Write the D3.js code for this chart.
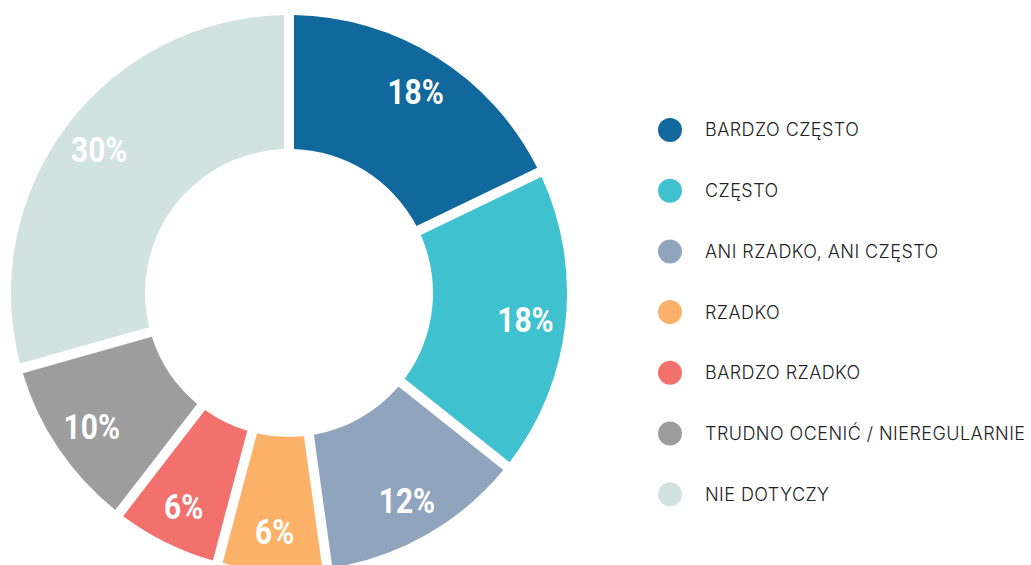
<!DOCTYPE html>
<html>
<head>
<meta charset="utf-8">
<script src="https://cdn.jsdelivr.net/npm/d3@7"></script>
<style>
  body { margin: 0; background: #fff; }
</style>
</head>
<body>
<script>
// categories and values
const categories = ["BARDZO CZĘSTO", "CZĘSTO", "ANI RZADKO, ANI CZĘSTO", "RZADKO",
  "BARDZO RZADKO", "TRUDNO OCENIĆ / NIEREGULARNIE", "NIE DOTYCZY"];
const values = [18, 18, 12, 6, 6, 10, 30];
const colors = ["#10689c", "#40c1cf", "#91a4bd", "#fbb167", "#f2716d", "#9d9d9d", "#d1e3e1"];

const w = 1031, h = 565;
const cx = 289, cy = 293, outer = 278, inner = 144, gap = 10;

const data = categories.map((c, i) => ({ name: c, value: values[i], color: colors[i] }));

const svg = d3.select("body")
  .append("svg")
  .attr("width", w)
  .attr("height", h);

const pie = d3.pie().value(d => d.value).sort(null).padAngle(gap / outer);
const arc = d3.arc().innerRadius(inner).outerRadius(outer).padRadius(outer);
const labelArc = d3.arc().innerRadius(238).outerRadius(238);

const g = svg.append("g").attr("transform", `translate(${cx},${cy})`);

const arcs = pie(data);

g.selectAll("path")
  .data(arcs)
  .join("path")
  .attr("d", arc)
  .attr("fill", d => d.data.color);

// condensed bold look: squeeze Roboto horizontally
g.selectAll("text")
  .data(arcs)
  .join("text")
  .attr("transform", d => `translate(${labelArc.centroid(d)}) scale(0.83,1)`)
  .attr("text-anchor", "middle")
  .attr("dy", "0.36em")
  .style("font-family", "Roboto, sans-serif")
  .style("font-weight", "bold")
  .style("font-size", "36px")
  .attr("fill", "#fff")
  .text(d => d.data.value + "%");

// legend
const legend = svg.append("g")
  .attr("id", "legend")
  .attr("transform", "translate(670,130)");

const item = legend.selectAll("g")
  .data(data)
  .join("g")
  .attr("transform", (d, i) => `translate(0,${i * 60.7})`);

item.append("circle")
  .attr("r", 12)
  .attr("fill", d => d.color);

item.append("text")
  .attr("x", 35)
  .attr("dy", "0.36em")
  .style("font-family", "Inter, sans-serif")
  .style("font-weight", 300)
  .style("font-size", "18px")
  .style("letter-spacing", "0.45px")
  .attr("fill", "#222")
  .text(d => d.name);
</script>
</body>
</html>
